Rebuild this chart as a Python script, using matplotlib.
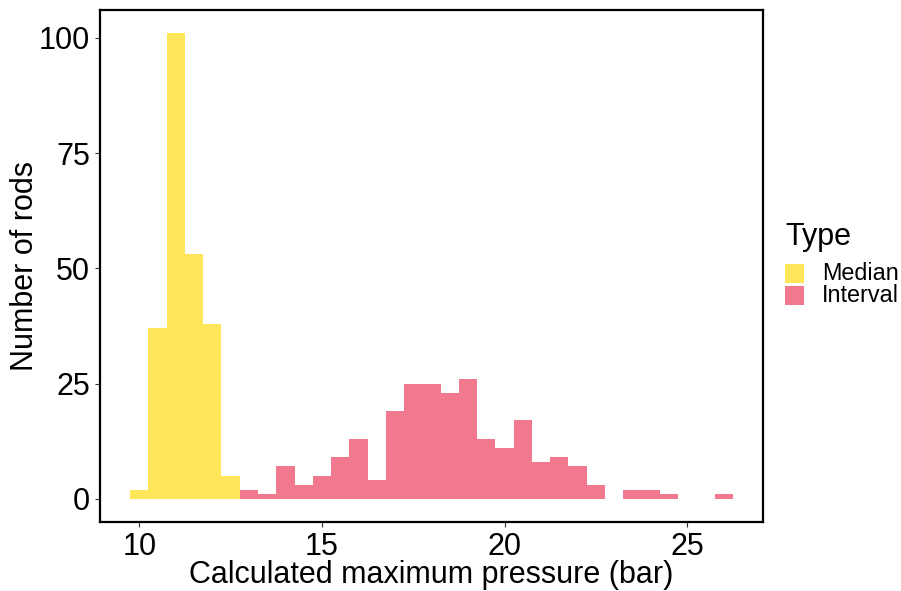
import matplotlib
matplotlib.use("Agg")
import matplotlib.pyplot as plt
from matplotlib.patches import Rectangle

plt.rcParams['font.family'] = ['Liberation Sans', 'DejaVu Sans']

# histogram bins (bin centres, binwidth 0.5) and counts
binwidth = 0.5
median_bins = [10.0, 10.5, 11.0, 11.5, 12.0, 12.5]
median_counts = [2, 37, 101, 53, 38, 5]

interval_bins = [13.0, 13.5, 14.0, 14.5, 15.0, 15.5, 16.0, 16.5, 17.0, 17.5,
                 18.0, 18.5, 19.0, 19.5, 20.0, 20.5, 21.0, 21.5, 22.0, 22.5,
                 23.0, 23.5, 24.0, 24.5, 25.0, 25.5, 26.0]
interval_counts = [2, 1, 7, 3, 5, 9, 13, 4, 19, 25,
                   25, 23, 26, 13, 11, 17, 8, 9, 7, 3,
                   0, 2, 2, 1, 0, 0, 1]

types = ['Median', 'Interval']
colors = {'Median': '#FFE55A', 'Interval': '#F1788F'}

x_ticks = [10, 15, 20, 25]
y_ticks = [0, 25, 50, 75, 100]

fig = plt.figure(figsize=(9.01, 5.91), dpi=100)
ax = fig.add_axes([100 / 901, 1 - 522 / 591, 663 / 901, 512 / 591])

ax.bar(median_bins, median_counts, width=binwidth, color=colors['Median'], linewidth=0)
ax.bar(interval_bins, interval_counts, width=binwidth, color=colors['Interval'], linewidth=0)

# ggplot-like 5% expansion
lo = median_bins[0] - binwidth / 2
hi = interval_bins[-1] + binwidth / 2
pad = (hi - lo) * 0.05
ax.set_xlim(lo - pad, hi + pad)
ymax = max(median_counts + interval_counts)
ax.set_ylim(-ymax * 0.05, ymax * 1.05)

ax.set_xticks(x_ticks)
ax.set_yticks(y_ticks)
ax.tick_params(axis='both', labelsize=22, length=3.5, width=0.8, color='#333333',
               labelcolor='black', pad=3.5)

for s in ax.spines.values():
    s.set_linewidth(1.6)
    s.set_color('black')

ax.set_xlabel('Calculated maximum pressure (bar)', fontsize=22, labelpad=-1.5)
ax.set_ylabel('Number of rods', fontsize=22, labelpad=-1)

# legend drawn like ggplot's guide
fig.text(785 / 901, 1 - 237 / 591, 'Type', fontsize=22, va='center', ha='left')
key_top = 264
for i, t in enumerate(types):
    y0 = key_top + i * 22
    fig.add_artist(Rectangle((785 / 901, 1 - (y0 + 19) / 591), 18.5 / 901, 19 / 591,
                             transform=fig.transFigure, color=colors[t], linewidth=0))
    fig.text(822 / 901, 1 - (y0 + 9.5) / 591, t, fontsize=16.8, va='center', ha='left')

fig.savefig('out.png', dpi=100)
